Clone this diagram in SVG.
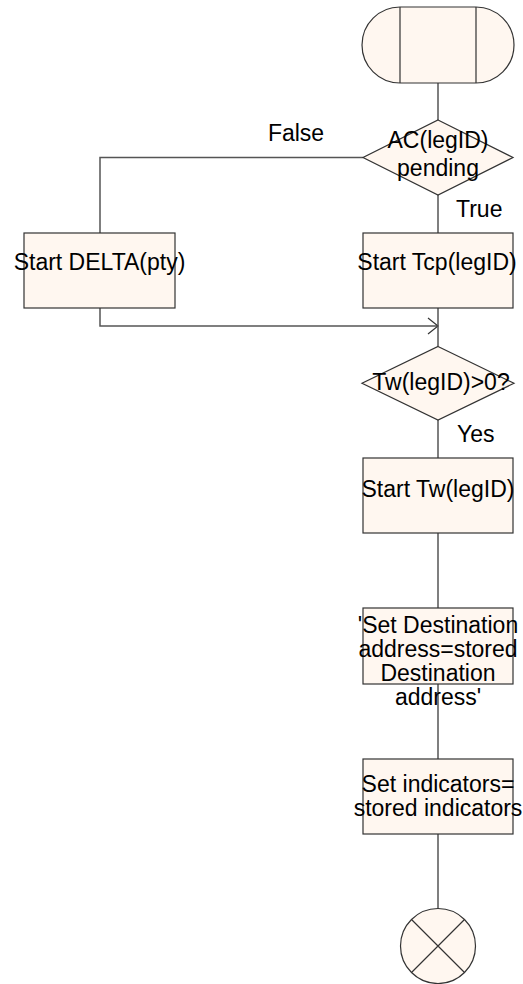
<svg xmlns="http://www.w3.org/2000/svg" width="523" height="984" viewBox="0 0 523 984">
<defs>
<style>
.shape{fill:#fff7f0;stroke:#333;stroke-width:1.2}
.conn{fill:none;stroke:#555;stroke-width:1.5}
text{font-family:"Liberation Sans",Arial,sans-serif;font-size:23px;fill:#000}
.c{text-anchor:middle}
</style>
<marker id="arr" markerWidth="14" markerHeight="20" refX="11" refY="9" orient="auto" markerUnits="userSpaceOnUse">
<path d="M1,1 L11,9 L1,17" fill="none" stroke="#333" stroke-width="1.2"/>
</marker>
</defs>
<rect width="523" height="984" fill="#fff"/>
<g id="connectors">
<path class="conn" d="M438,83 V120"/>
<path class="conn" d="M363,157.5 H100 V233"/>
<path class="conn" d="M438,195 V233"/>
<path class="conn" d="M100,308 V326 H438" marker-end="url(#arr)"/>
<path class="conn" d="M438,308 V346.5"/>
<path class="conn" d="M438,420 V458"/>
<path class="conn" d="M438,533 V608"/>
<path class="conn" d="M438,684 V759"/>
<path class="conn" d="M438,834 V909"/>
<text x="296" y="141" class="c">False</text>
<text x="456" y="217">True</text>
<text x="457" y="442">Yes</text>
</g>
<g id="start">
<path class="shape" d="M400,7 H476 A38,38 0 0 1 476,83 H400 A38,38 0 0 1 400,7 Z"/>
<path d="M400,7 V83 M476,7 V83" stroke="#333" stroke-width="1.2" fill="none"/>
</g>
<g id="decision1">
<polygon class="shape" points="438,120 513,157.5 438,195 363,157.5"/>
<text x="438" y="148" class="c">AC(legID)</text>
<text x="438" y="176" class="c">pending</text>
</g>
<g id="delta">
<rect class="shape" x="24" y="233" width="151" height="75"/>
<text x="99.5" y="270" class="c">Start DELTA(pty)</text>
</g>
<g id="tcp">
<rect class="shape" x="363" y="233" width="150" height="75"/>
<text x="437" y="270" class="c">Start Tcp(legID)</text>
</g>
<g id="decision2">
<polygon class="shape" points="438,346.5 514,383.3 438,420 362,383.3"/>
<text x="441" y="390" class="c">Tw(legID)&gt;0?</text>
</g>
<g id="tw">
<rect class="shape" x="363" y="458" width="150" height="75"/>
<text x="438" y="497" class="c">Start Tw(legID)</text>
</g>
<g id="setdest">
<rect class="shape" x="363" y="608" width="150" height="76"/>
<text x="438" y="633" class="c">'Set Destination</text>
<text x="438" y="657" class="c">address=stored</text>
<text x="438" y="681" class="c">Destination</text>
<text x="438" y="705" class="c">address'</text>
</g>
<g id="setind">
<rect class="shape" x="363" y="759" width="150" height="75"/>
<text x="438" y="792" class="c">Set indicators=</text>
<text x="438" y="816" class="c">stored indicators</text>
</g>
<g id="stop">
<circle class="shape" cx="438" cy="946" r="37.5"/>
<path d="M411.5,919.5 L464.5,972.5 M464.5,919.5 L411.5,972.5" stroke="#333" stroke-width="1.2"/>
</g>
</svg>
